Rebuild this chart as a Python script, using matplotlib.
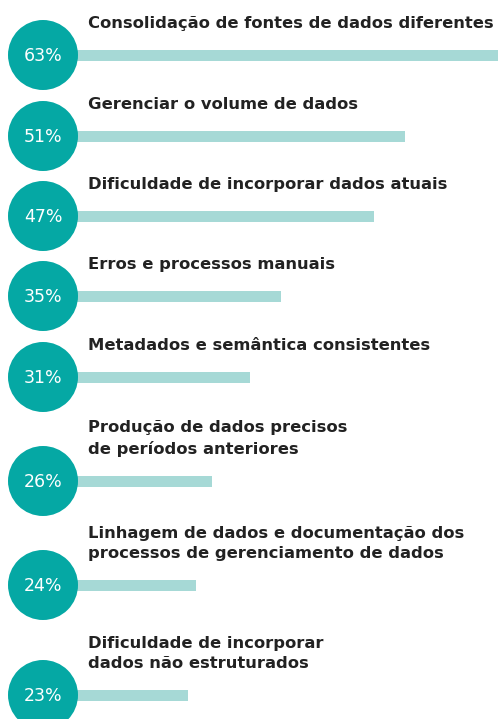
import matplotlib.pyplot as plt

labels = [
    'Consolidação de fontes de dados diferentes',
    'Gerenciar o volume de dados',
    'Dificuldade de incorporar dados atuais',
    'Erros e processos manuais',
    'Metadados e semântica consistentes',
    'Produção de dados precisos\nde períodos anteriores',
    'Linhagem de dados e documentação dos\nprocessos de gerenciamento de dados',
    'Dificuldade de incorporar\ndados não estruturados',
]
values = [63, 51, 47, 35, 31, 26, 24, 23]

# layout (pixels)
W, H = 499, 719
row_y = [55, 136, 216, 296, 377, 481, 585, 695]
px_per_pct = 7.75
bar_left_px = 10
circle_x_px = 43

teal = '#05a8a4'
light = '#a6d9d6'
dark = '#222222'

fig = plt.figure(figsize=(W / 100, H / 100), dpi=100)
ax = fig.add_axes([0, 0, 1, 1])
ax.set_xlim(-bar_left_px / px_per_pct, (W - bar_left_px) / px_per_pct)
ax.set_ylim(H, 0)
ax.axis('off')

ax.barh(row_y, values, height=11, left=0, color=light, zorder=1)

cx = (circle_x_px - bar_left_px) / px_per_pct
ax.scatter([cx] * len(values), row_y, s=(70 * 0.72) ** 2, color=teal,
           edgecolors='none', zorder=2, clip_on=False)

for y, v, lab in zip(row_y, values, labels):
    ax.text(cx, y + 1, f'{v}%', color='white', fontsize=12.5, ha='center',
            va='center', family='DejaVu Sans', zorder=3)
    ax.text((88 - bar_left_px) / px_per_pct, y - 24, lab, color=dark,
            fontsize=11.8, fontweight='bold', family='DejaVu Sans', ha='left',
            va='bottom', linespacing=1.45)

fig.savefig('out.png', dpi=100)
